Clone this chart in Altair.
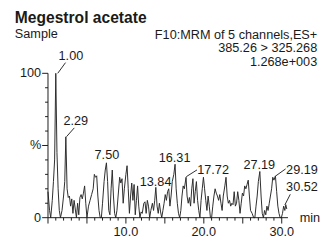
import altair as alt
import pandas as pd

# ---- trace (retention time in min, relative intensity %) ----
times = [0.0, 0.2, 0.35, 0.55, 0.7, 0.85, 1.0, 1.15, 1.3, 1.45, 1.6, 1.8, 2.0, 2.15, 2.29,
         2.45, 2.6, 2.75, 2.9, 3.05, 3.2, 3.35, 3.5, 3.65, 3.8, 3.95, 4.1, 4.25, 4.4, 4.55,
         4.7, 4.85, 5.0, 5.2, 5.4, 5.6, 5.8, 5.95, 6.1, 6.25, 6.4, 6.55, 6.7, 6.85, 7.0,
         7.2, 7.35, 7.5, 7.65, 7.8, 7.95, 8.1, 8.25, 8.4, 8.55, 8.7, 8.85, 9.0, 9.2, 9.35,
         9.5, 9.65, 9.8, 10.0, 10.15, 10.3, 10.45, 10.6, 10.75, 10.9, 11.05, 11.2, 11.35, 11.5,
         11.65, 11.8, 11.95, 12.1, 12.3, 12.45, 12.6, 12.75, 12.9, 13.05, 13.2, 13.4, 13.55,
         13.7, 13.84, 14.0, 14.15, 14.3, 14.45, 14.6, 14.75, 14.9, 15.05, 15.2, 15.35, 15.5,
         15.65, 15.8, 15.95, 16.15, 16.31, 16.45, 16.6, 16.75, 16.9, 17.05, 17.2, 17.35, 17.5,
         17.72, 17.85, 18.0, 18.15, 18.3, 18.45, 18.6, 18.75, 18.9, 19.05, 19.2, 19.35, 19.5,
         19.65, 19.8, 19.95, 20.1, 20.25, 20.4, 20.55, 20.7, 20.85, 21.0, 21.15, 21.3, 21.45,
         21.6, 21.75, 21.9, 22.05, 22.2, 22.35, 22.5, 22.7, 22.85, 23.0, 23.15, 23.3, 23.45,
         23.6, 23.75, 23.9, 24.05, 24.2, 24.35, 24.5, 24.65, 24.8, 24.95, 25.1, 25.25, 25.4,
         25.55, 25.7, 25.85, 26.0, 26.2, 26.4, 26.55, 26.7, 26.85, 27.0, 27.19, 27.35, 27.5,
         27.65, 27.8, 27.95, 28.1, 28.25, 28.4, 28.55, 28.7, 28.85, 29.0, 29.19, 29.35, 29.5,
         29.65, 29.8, 29.95, 30.1, 30.25, 30.4, 30.52, 30.65]
intensity = [18, 5, 0, 12, 25, 40, 100, 45, 20, 5, 0, 5, 15, 25, 56,
             20, 14, 15, 8, 13, 3, 12, 6, 0, 10, 2, 14, 16, 13, 17,
             22, 10, 0, 8, 12, 16, 20, 30, 28, 29, 15, 5, 0, 0, 10,
             25, 33, 38, 25, 5, 2, 20, 33, 15, 3, 0, 5, 15, 28, 24,
             27, 10, 20, 30, 36, 20, 3, 15, 24, 12, 23, 2, 12, 22,
             8, 0, 4, 3, 10, 11, 3, 12, 8, 0, 5, 10, 5,
             12, 21, 8, 3, 10, 4, 0, 5, 10, 16, 12, 18, 20,
             8, 15, 25, 30, 37, 20, 10, 3, 0, 5, 15, 22, 20,
             28, 15, 10, 14, 8, 20, 27, 10, 18, 25, 12, 5, 0,
             12, 20, 28, 20, 12, 5, 15, 8, 0, 0, 8, 15, 20,
             17, 15, 12, 16, 10, 5, 15, 22, 28, 15, 10, 12, 8,
             10, 9, 18, 8, 10, 18, 12, 3, 10, 17, 15, 22, 20,
             23, 26, 15, 5, 3, 0, 0, 8, 15, 25, 32, 15, 3,
             0, 5, 2, 8, 5, 10, 15, 20, 28, 26, 29, 18, 8,
             3, 0, 0, 3, 8, 5, 9, 6]

# ---- peak annotations ----
peak_labels = ["1.00", "2.29", "7.50", "13.84", "16.31", "17.72", "27.19", "29.19", "30.52"]
label_t = [2.94, 3.56, 7.56, 13.81, 16.25, 21.19, 27.12, 32.6, 32.6]
label_v = [109.5, 64.2, 40.5, 22.0, 38.5, 30.4, 33.8, 30.4, 18.2]

# leader lines (start at peak apex, end under the label)
lead_t0 = [1.25, 2.375, 17.75, 29.25, 30.4]
lead_v0 = [100, 56.1, 28.4, 29.0, 8.8]
lead_t1 = [2.25, 3.375, 19.125, 30.5, 31.1]
lead_v1 = [107.4, 62.2, 33.1, 33.8, 16.2]

title_text = "Megestrol acetate"
sample_text = "Sample"
info_lines = ["F10:MRM of 5 channels,ES+", "385.26 > 325.268", "1.268e+003"]

# axes
x_range = [0, 30.8]
y_range = [0, 100]
x_major = [0, 5, 10, 15, 20, 25, 30]
x_minor = [m for m in range(0, 31) if m % 5 != 0]
x_label_vals = [10, 20, 30]
x_label_text = ["10.0", "20.0", "30.0"]
x_unit = "min"
y_major = [0, 50, 100]
y_minor = [10, 20, 30, 40, 60, 70, 80, 90]
y_label_text = ["0", "%", "100"]

FONT = "Liberation Sans"
INK = "#1a1a1a"

trace = pd.DataFrame({"t": times, "v": intensity})
labels = pd.DataFrame({"t": label_t, "v": label_v, "label": peak_labels})
leaders = pd.DataFrame({"t0": lead_t0, "v0": lead_v0, "t1": lead_t1, "v1": lead_v1})

xs = alt.Scale(domain=x_range, nice=False, zero=False)
ys = alt.Scale(domain=y_range, nice=False)


def X(f):
    return alt.X(f, scale=xs, axis=None)


def Y(f):
    return alt.Y(f, scale=ys, axis=None)


line = alt.Chart(trace).mark_line(color="#2a2a2a", strokeWidth=1).encode(
    x=X("t:Q"), y=Y("v:Q"),
)

# ---- hand-built axes (through the same scales) ----
x_dom = alt.Chart(pd.DataFrame({"a": [x_range[0]], "b": [x_range[1]], "v": [y_range[0]]})).mark_rule(
    color=INK, strokeWidth=1).encode(x=X("a:Q"), x2="b:Q", y=Y("v:Q"))
y_dom = alt.Chart(pd.DataFrame({"a": [y_range[0]], "b": [y_range[1]], "t": [x_range[0]]})).mark_rule(
    color=INK, strokeWidth=1).encode(y=Y("a:Q"), y2="b:Q", x=X("t:Q"))

x_maj = alt.Chart(pd.DataFrame({"t": x_major})).mark_rule(color=INK, strokeWidth=1).encode(
    x=X("t:Q"), y=alt.value(148), y2=alt.value(154))
x_min = alt.Chart(pd.DataFrame({"t": x_minor})).mark_rule(color=INK, strokeWidth=1).encode(
    x=X("t:Q"), y=alt.value(148), y2=alt.value(151))
y_maj = alt.Chart(pd.DataFrame({"v": y_major})).mark_rule(color=INK, strokeWidth=1).encode(
    y=Y("v:Q"), x=alt.value(-6), x2=alt.value(0))
y_min = alt.Chart(pd.DataFrame({"v": y_minor})).mark_rule(color=INK, strokeWidth=1).encode(
    y=Y("v:Q"), x=alt.value(-3), x2=alt.value(0))

x_lab = alt.Chart(pd.DataFrame({"t": x_label_vals, "s": x_label_text})).mark_text(
    font=FONT, fontSize=13, color=INK, align="center", baseline="alphabetic").encode(
    x=X("t:Q"), y=alt.value(167), text="s:N")
y_lab = alt.Chart(pd.DataFrame({"v": y_major, "s": y_label_text})).mark_text(
    font=FONT, fontSize=13, color=INK, align="right", baseline="middle").encode(
    y=Y("v:Q"), x=alt.value(-7), text="s:N")
unit = alt.Chart(pd.DataFrame({"k": [0]})).mark_text(
    font=FONT, fontSize=13, color=INK, align="left", baseline="middle").encode(
    x=alt.value(258), y=alt.value(148), text=alt.value(x_unit))

lead = alt.Chart(leaders).mark_rule(color="#2a2a2a", strokeWidth=1).encode(
    x=X("t0:Q"), y=Y("v0:Q"), x2="t1:Q", y2="v1:Q",
)

peaks = alt.Chart(labels).mark_text(
    font=FONT, fontSize=13, color=INK, align="center", baseline="alphabetic"
).encode(x=X("t:Q"), y=Y("v:Q"), text="label:N")

one = pd.DataFrame({"k": [0]})
title = alt.Chart(one).mark_text(
    font=FONT, fontSize=16, fontWeight="bold", color=INK, align="left", baseline="alphabetic"
).encode(x=alt.value(-34), y=alt.value(-52), text=alt.value(title_text))
sample = alt.Chart(one).mark_text(
    font=FONT, fontSize=13, color=INK, align="left", baseline="alphabetic"
).encode(x=alt.value(-34), y=alt.value(-36), text=alt.value(sample_text))

info_layers = []
for txt, yy in zip(info_lines, [-35, -22, -8]):
    info_layers.append(
        alt.Chart(one).mark_text(
            font=FONT, fontSize=13, color=INK, align="right", baseline="alphabetic"
        ).encode(x=alt.value(276), y=alt.value(yy), text=alt.value(txt))
    )

chart = alt.layer(
    line, x_dom, y_dom, x_maj, x_min, y_maj, y_min, x_lab, y_lab, unit,
    lead, peaks, title, sample, *info_layers
).properties(
    width=246, height=148,
    padding={"left": 41, "top": 64, "right": 39, "bottom": 23},
    autosize="none", background="white",
).configure_view(stroke=None)

chart.save("out.html", embed_options={"renderer": "svg", "actions": False})
